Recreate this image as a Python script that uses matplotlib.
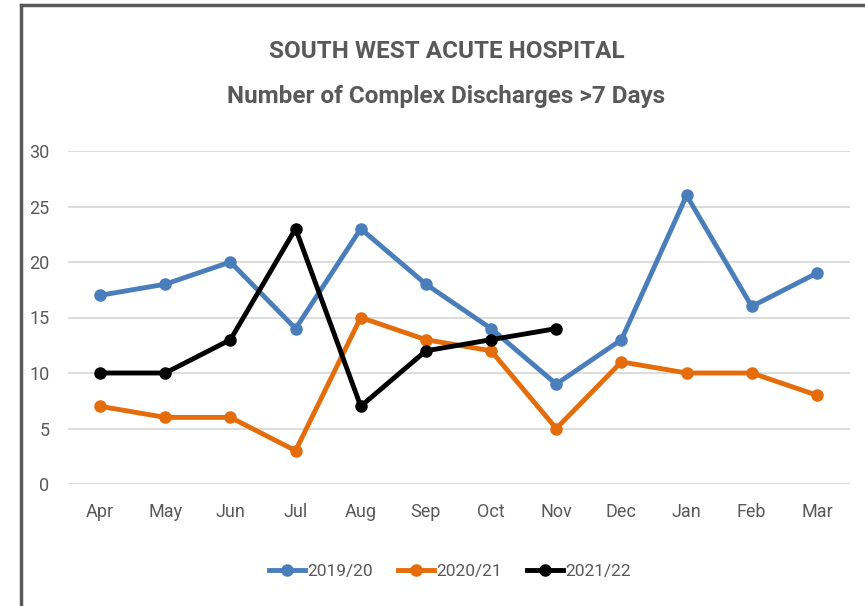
import matplotlib
matplotlib.use("Agg")
import matplotlib.pyplot as plt
from matplotlib import font_manager
from matplotlib.lines import Line2D

months = ["Apr", "May", "Jun", "Jul", "Aug", "Sep", "Oct", "Nov", "Dec", "Jan", "Feb", "Mar"]
s2019 = [17, 18, 20, 14, 23, 18, 14, 9, 13, 26, 16, 19]
s2020 = [7, 6, 6, 3, 15, 13, 12, 5, 11, 10, 10, 8]
s2021 = [10, 10, 13, 23, 7, 12, 13, 14]
series_names = ["2019/20", "2020/21", "2021/22"]
colors = ["#4a7ebb", "#e46c0a", "#000000"]
yticks = [0, 5, 10, 15, 20, 25, 30]

names = {f.name for f in font_manager.fontManager.ttflist}
fam = "Liberation Sans Narrow" if "Liberation Sans Narrow" in names else "Roboto"
plt.rcParams['font.family'] = [fam, 'DejaVu Sans']

W, H = 865, 606
fig = plt.figure(figsize=(W / 100, H / 100), dpi=100)
ax = fig.add_axes([67.5 / W, 1 - 484 / H, (849.5 - 67.5) / W, (484 - 151) / H])

x = list(range(len(months)))
for vals, c, n in zip([s2019, s2020, s2021], colors, series_names):
    ax.plot(x[:len(vals)], vals, color=c, lw=3.5, marker='o', ms=8, label=n,
            solid_capstyle='round', zorder=3)

ax.set_xlim(-0.5, 11.5)
ax.set_ylim(0, 30)
ax.set_yticks(yticks)
ax.set_xticks(x)
ax.set_xticklabels(months)
ax.grid(axis='y', color='#d9d9d9', lw=1.3)
ax.set_axisbelow(True)
for s in ax.spines.values():
    s.set_visible(False)
ax.tick_params(length=0, labelsize=13, labelcolor='#595959')
ax.tick_params(axis='y', pad=13)
ax.tick_params(axis='x', pad=14)

fig.text(447 / W, 1 - 51 / H, "SOUTH WEST ACUTE HOSPITAL", ha='center', va='center',
         fontsize=17.5, fontweight='bold', color='#595959')
fig.text(446 / W, 1 - 96 / H, "Number of Complex Discharges >7 Days", ha='center', va='center',
         fontsize=17.5, fontweight='bold', color='#595959')

handles = [Line2D([0], [0], color=c, lw=3.5, marker='o', ms=8) for c in colors]
fig.legend(handles, series_names, loc='center', bbox_to_anchor=(450 / W, 1 - 571 / H),
           ncol=3, frameon=False, fontsize=12.5, labelcolor='#595959',
           handlelength=2.1, handletextpad=0.15, columnspacing=1.4)

# chart frame (left and top edges visible)
fig.add_artist(Line2D([21 / W, 21 / W], [0, 1 - 5 / H], color='#595959', lw=2.5,
                      transform=fig.transFigure))
fig.add_artist(Line2D([21 / W, 1], [1 - 5 / H, 1 - 5 / H], color='#595959', lw=2.5,
                      transform=fig.transFigure))

fig.savefig("out.png", dpi=100)
